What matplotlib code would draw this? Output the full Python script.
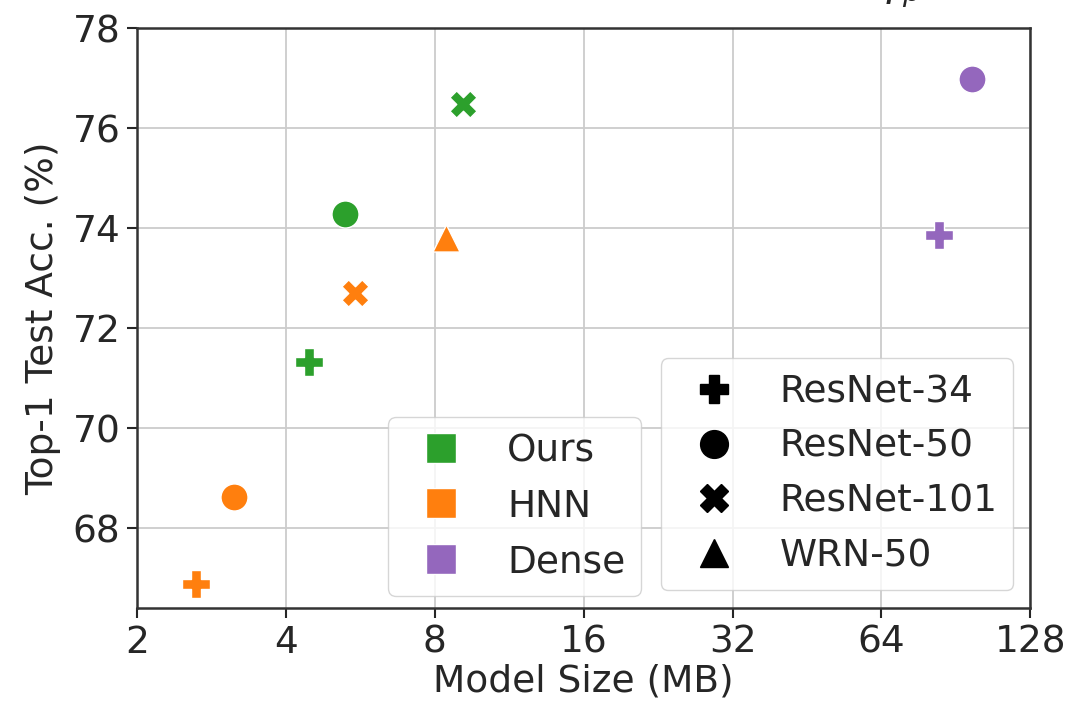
import matplotlib
matplotlib.use('Agg')
import matplotlib.pyplot as plt
from matplotlib.lines import Line2D
import seaborn as sns

methods = ['Ours', 'HNN', 'Dense']
colors = ['#2ca02c', '#ff7f0e', '#9467bd']
archs = ['ResNet-34', 'ResNet-50', 'ResNet-101', 'WRN-50']
markers = ['P', 'o', 'X', '^']

# (model size MB, top-1 acc) per method / arch, None = not present
ours_size = [4.46, 5.27, 9.13, None]
ours_acc = [71.33, 74.28, 76.48, None]
hnn_size = [2.63, 3.14, 5.52, 8.44]
hnn_acc = [66.88, 68.62, 72.70, 73.80]
dense_size = [83.5, 97.7, None, None]
dense_acc = [73.87, 76.98, None, None]

sizes = [ours_size, hnn_size, dense_size]
accs = [ours_acc, hnn_acc, dense_acc]

sns.set_style('whitegrid')
plt.rcParams['font.family'] = ['DejaVu Sans']

fig = plt.figure(figsize=(10.71, 7.07), dpi=100)
ax = fig.add_axes([0.128, 0.14, 0.834, 0.82])

for m in range(len(methods)):
    for a in range(len(archs)):
        if sizes[m][a] is None:
            continue
        ax.scatter(sizes[m][a], accs[m][a], marker=markers[a], s=380,
                   color=colors[m], edgecolor='white', linewidth=1, zorder=3)

ax.set_xscale('log', base=2)
ax.set_xlim(2, 128)
ax.set_ylim(66.4, 78)
ax.set_xticks([2, 4, 8, 16, 32, 64, 128])
ax.set_xticklabels(['2', '4', '8', '16', '32', '64', '128'])
ax.set_yticks([68, 70, 72, 74, 76, 78])
ax.minorticks_off()
ax.tick_params(labelsize=27, colors='0.15', length=7, width=1.5,
               bottom=True, left=True, pad=5)
for s in ax.spines.values():
    s.set_color('0.2')
    s.set_linewidth(1.8)
ax.grid(True, color='0.8', linewidth=1.3)
ax.set_xlabel('Model Size (MB)', fontsize=27, color='0.15', labelpad=2)
ax.set_ylabel('Top-1 Test Acc. (%)', fontsize=27, color='0.15', labelpad=8)

h1 = [Line2D([], [], linestyle='none', marker='s', markersize=22,
             color=c, markeredgecolor='white') for c in colors]
leg1 = ax.legend(h1, methods, loc='lower left', bbox_to_anchor=(0.281, 0.021),
                 borderaxespad=0, fontsize=27, handletextpad=0.75,
                 borderpad=0.42, labelspacing=0.52, framealpha=0.8)
ax.add_artist(leg1)
h2 = [Line2D([], [], linestyle='none', marker=mk, markersize=20,
             color='black') for mk in markers]
ax.legend(h2, archs, loc='lower right', bbox_to_anchor=(0.981, 0.031),
          borderaxespad=0, fontsize=27, handletextpad=0.75, borderpad=0.42,
          labelspacing=0.5, framealpha=0.8)

fig.text(0.82, 1.02, r'$\gamma_p = 50$', fontsize=30, va='center',
         ha='left', family='DejaVu Serif')

fig.savefig('out.png', dpi=100)
